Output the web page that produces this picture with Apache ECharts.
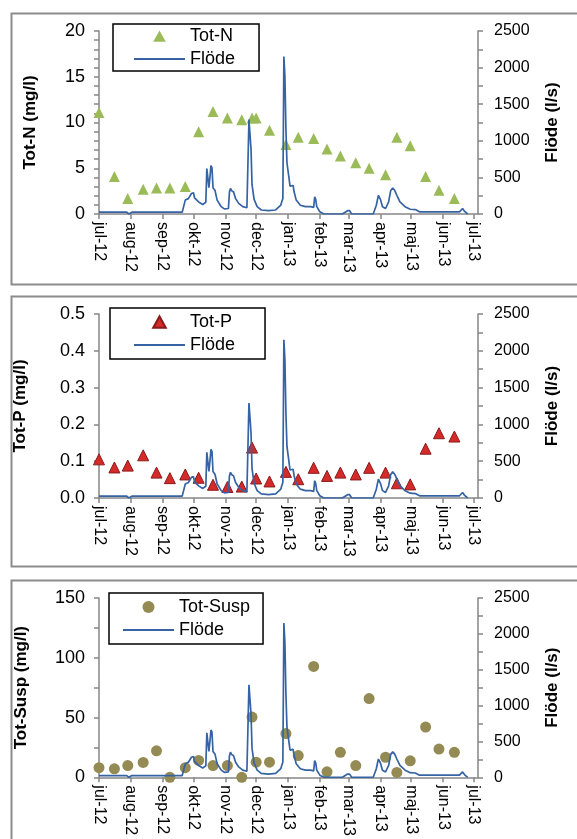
<!DOCTYPE html>
<html>
<head>
<meta charset="utf-8">
<script src="https://cdn.jsdelivr.net/npm/echarts@6/dist/echarts.min.js"></script>
<style>
html, body { margin: 0; padding: 0; background: #fff; }
#chart { width: 577px; height: 839px; }
</style>
</head>
<body>
<div id="chart"></div>
<script>
// provtagningsdatum och halter
var sampleDates = ['2012-07-01', '2012-07-16', '2012-07-29', '2012-08-13', '2012-08-26', '2012-09-08',
    '2012-09-23', '2012-10-06', '2012-10-20', '2012-11-03', '2012-11-17', '2012-11-27', '2012-12-01',
    '2012-12-14', '2012-12-30', '2013-01-11', '2013-01-26', '2013-02-08', '2013-02-21', '2013-03-08',
    '2013-03-21', '2013-04-06', '2013-04-17', '2013-04-30', '2013-05-15', '2013-05-28', '2013-06-12'];
var totN = [11.1, 4.1, 1.7, 2.7, 2.85, 2.85, 3.0, 9.0, 11.2, 10.5, 10.3, 10.5, 10.5, 9.15, 7.6, 8.4,
    8.25, 7.1, 6.35, 5.6, 5.0, 4.3, 8.4, 7.45, 4.1, 2.6, 1.7];
var totP = [0.105, 0.083, 0.088, 0.116, 0.069, 0.054, 0.064, 0.055, 0.036, 0.030, 0.031, 0.137, 0.053,
    0.045, 0.071, 0.051, 0.082, 0.060, 0.069, 0.064, 0.082, 0.069, 0.040, 0.037, 0.134, 0.176, 0.167];
var totSusp = [8.1, 7.1, 9.8, 12.5, 22.2, 0, 8.1, 14.1, 9.8, 9.8, 0, 50.4, 12.7, 12.7, 36.6, 18.2,
    92.8, 4.6, 20.9, 9.8, 65.9, 16.8, 4.1, 13.8, 42, 23.6, 20.9];

// flöde, dagar efter 2012-07-01 och l/s
var flowDay = [0, 27, 29, 32, 81, 84, 87, 90, 92, 93, 97, 101, 102, 104, 105, 106, 107, 108, 109, 110,
    111, 113, 115, 119, 122, 126, 127, 128, 129, 131, 133, 136, 140, 144, 145, 146, 147, 148, 149, 151,
    154, 158, 165, 172, 177, 178, 179, 180, 181, 182, 183, 186, 189, 190, 192, 196, 201, 206, 209, 210,
    211, 212, 215, 219, 237, 242, 244, 246, 267, 270, 272, 274, 276, 279, 282, 284, 286, 288, 290, 293,
    298, 303, 308, 312, 351, 354, 356, 359];
var flowValue = [25, 25, 0, 25, 25, 190, 210, 280, 290, 220, 165, 130, 120, 160, 620, 640, 360, 500, 660, 630,
    360, 320, 190, 100, 70, 75, 300, 350, 320, 300, 210, 145, 100, 85, 75, 1290, 1270, 890, 400, 200,
    100, 55, 45, 55, 120, 170, 210, 2150, 1880, 1150, 700, 380, 390, 300, 190, 120, 100, 100, 90, 235,
    200, 100, 30, 0, 0, 45, 45, 0, 0, 120, 255, 200, 100, 75, 165, 320, 355, 320, 255, 165,
    100, 65, 60, 30, 30, 75, 35, 0];

var monthNames = ['jan', 'feb', 'mar', 'apr', 'maj', 'jun', 'jul', 'aug', 'sep', 'okt', 'nov', 'dec'];

var FONT = '"Liberation Sans", Arial, sans-serif';
var AXIS_GRAY = '#868686';
var DAY = 86400000;

// legend icons: invisible moveTo corners keep the icon box 51x12 so the marker is not stretched
var ICON_TRIANGLE = 'path://M0,0 M51,12 M19.2,11.8 L25.5,0.4 L31.8,11.8 Z';
var ICON_CIRCLE = 'path://M0,0 M51,12 M19.5,6 A6,6 0 1 0 31.5,6 A6,6 0 1 0 19.5,6 Z';

var start = new Date(2012, 6, 1);
function dayOf(date) {
    return Math.round((date.getTime() - start.getTime()) / DAY);
}
function parseDay(s) {
    var p = s.split('-');
    return dayOf(new Date(+p[0], +p[1] - 1, +p[2]));
}
var xMax = dayOf(new Date(2013, 6, 5));
var monthTicks = [];
for (var m = 0; m <= 12; m++) monthTicks.push(dayOf(new Date(2012, 6 + m, 1)));

var flowData = flowDay.map(function (d, i) { return [d, flowValue[i]]; });
function samples(vals) {
    return sampleDates.map(function (d, i) { return [parseDay(d), vals[i]]; });
}

var grids = [
    { left: 99, right: 99, top: 31, height: 183 },
    { left: 99, right: 99, top: 314, height: 184 },
    { left: 99, right: 99, top: 598, height: 183 }
];

function xAxis(gi) {
    return {
        type: 'value', gridIndex: gi, min: 0, max: xMax,
        axisLine: { onZero: false, lineStyle: { color: AXIS_GRAY, width: 1.5 } },
        axisTick: { show: true, length: 5, customValues: monthTicks, lineStyle: { color: AXIS_GRAY, width: 1.5 } },
        splitLine: { show: false },
        axisLabel: {
            customValues: monthTicks, rotate: -90, margin: 8,
            fontSize: 16, color: '#000', fontFamily: FONT,
            formatter: function (v) {
                var d = new Date(2012, 6, 1 + Math.round(v));
                return monthNames[d.getMonth()] + '-' + String(d.getFullYear()).slice(2);
            }
        }
    };
}

function yLeft(gi, max, interval, minorSplit, name, gap, digits) {
    return {
        type: 'value', gridIndex: gi, position: 'left', min: 0, max: max, interval: interval,
        name: name, nameLocation: 'middle', nameGap: gap, nameRotate: 90,
        nameTextStyle: { fontSize: 17, fontWeight: 'bold', color: '#000', fontFamily: FONT },
        axisLine: { show: true, lineStyle: { color: AXIS_GRAY, width: 1.5 } },
        axisTick: { show: true, length: 5, lineStyle: { color: AXIS_GRAY, width: 1.5 } },
        minorTick: { show: minorSplit > 1, splitNumber: minorSplit || 1, length: 5, lineStyle: { color: AXIS_GRAY, width: 1.5 } },
        splitLine: { show: false },
        axisLabel: {
            margin: 14, fontSize: 18, color: '#000', fontFamily: FONT,
            formatter: function (v) { return v.toFixed(digits); }
        }
    };
}

function yRight(gi) {
    return {
        type: 'value', gridIndex: gi, position: 'right', min: 0, max: 2500, interval: 500,
        name: 'Flöde (l/s)', nameLocation: 'middle', nameGap: 66, nameRotate: 90,
        nameTextStyle: { fontSize: 17, fontWeight: 'bold', color: '#000', fontFamily: FONT },
        axisLine: { show: true, lineStyle: { color: AXIS_GRAY, width: 1.5 } },
        axisTick: { show: true, length: 5, lineStyle: { color: AXIS_GRAY, width: 1.5 } },
        minorTick: { show: true, splitNumber: 2, length: 5, lineStyle: { color: AXIS_GRAY, width: 1.5 } },
        splitLine: { show: false },
        axisLabel: {
            margin: 16, fontSize: 16, color: '#000', fontFamily: FONT,
            formatter: function (v) { return String(v); }
        }
    };
}

function legend(left, top, markerName, markerIcon, pad) {
    return {
        orient: 'vertical', left: left, top: top,
        data: [
            { name: markerName, icon: markerIcon },
            { name: 'Flöde', itemStyle: { color: 'rgba(0,0,0,0)', borderColor: 'rgba(0,0,0,0)', borderWidth: 0 } }
        ],
        selectedMode: false,
        borderColor: '#000', borderWidth: 1.5, backgroundColor: '#fff', borderRadius: 0,
        padding: pad, itemWidth: 51, itemHeight: 12, itemGap: 5,
        textStyle: { fontSize: 18, color: '#000', fontFamily: FONT }
    };
}

function flowSeries(gi) {
    return {
        name: 'Flöde', type: 'line', xAxisIndex: gi, yAxisIndex: gi * 2 + 1,
        data: flowData, symbol: 'none', showSymbol: false, z: 3,
        lineStyle: { color: '#3563a3', width: 1.7 }, itemStyle: { color: '#3563a3' }
    };
}

function panel(y, h) {
    return {
        type: 'rect', left: 9, top: y, silent: true, z: -1,
        shape: { width: 620, height: h },
        style: { fill: 'none', stroke: '#8c8c8c', lineWidth: 2 }
    };
}

var option = {
    animation: false,
    backgroundColor: '#fff',
    graphic: [panel(11, 271), panel(294, 270), panel(578, 300)],
    grid: grids,
    legend: [
        legend(113, 24, 'Tot-N', ICON_TRIANGLE, [3, 24, 3, 20]),
        legend(110, 308, 'Tot-P', ICON_TRIANGLE, [5, 30, 5, 23]),
        legend(109, 593, 'Tot-Susp', ICON_CIRCLE, [5, 13, 5, 13])
    ],
    xAxis: [xAxis(0), xAxis(1), xAxis(2)],
    yAxis: [
        yLeft(0, 20, 5, 5, 'Tot-N (mg/l)', 60, 0), yRight(0),
        yLeft(1, 0.5, 0.1, 0, 'Tot-P (mg/l)', 70, 1), yRight(1),
        yLeft(2, 150, 50, 2, 'Tot-Susp (mg/l)', 69, 0), yRight(2)
    ],
    series: [
        {
            name: 'Tot-N', type: 'scatter', xAxisIndex: 0, yAxisIndex: 0, data: samples(totN),
            symbol: 'triangle', symbolSize: 11, z: 2, itemStyle: { color: '#9bbb59', opacity: 1 }
        },
        flowSeries(0),
        {
            name: 'Tot-P', type: 'scatter', xAxisIndex: 1, yAxisIndex: 2, data: samples(totP),
            symbol: 'triangle', symbolSize: 11, z: 2,
            itemStyle: { color: '#d42a2a', borderColor: '#8b1a1a', borderWidth: 1, opacity: 1 }
        },
        flowSeries(1),
        {
            name: 'Tot-Susp', type: 'scatter', xAxisIndex: 2, yAxisIndex: 4, data: samples(totSusp),
            symbol: 'circle', symbolSize: 11, z: 2, itemStyle: { color: '#948a54', opacity: 1 }
        },
        flowSeries(2)
    ]
};

var chart = echarts.init(document.getElementById('chart'), null, { renderer: 'canvas' });
chart.setOption(option);
</script>
</body>
</html>
